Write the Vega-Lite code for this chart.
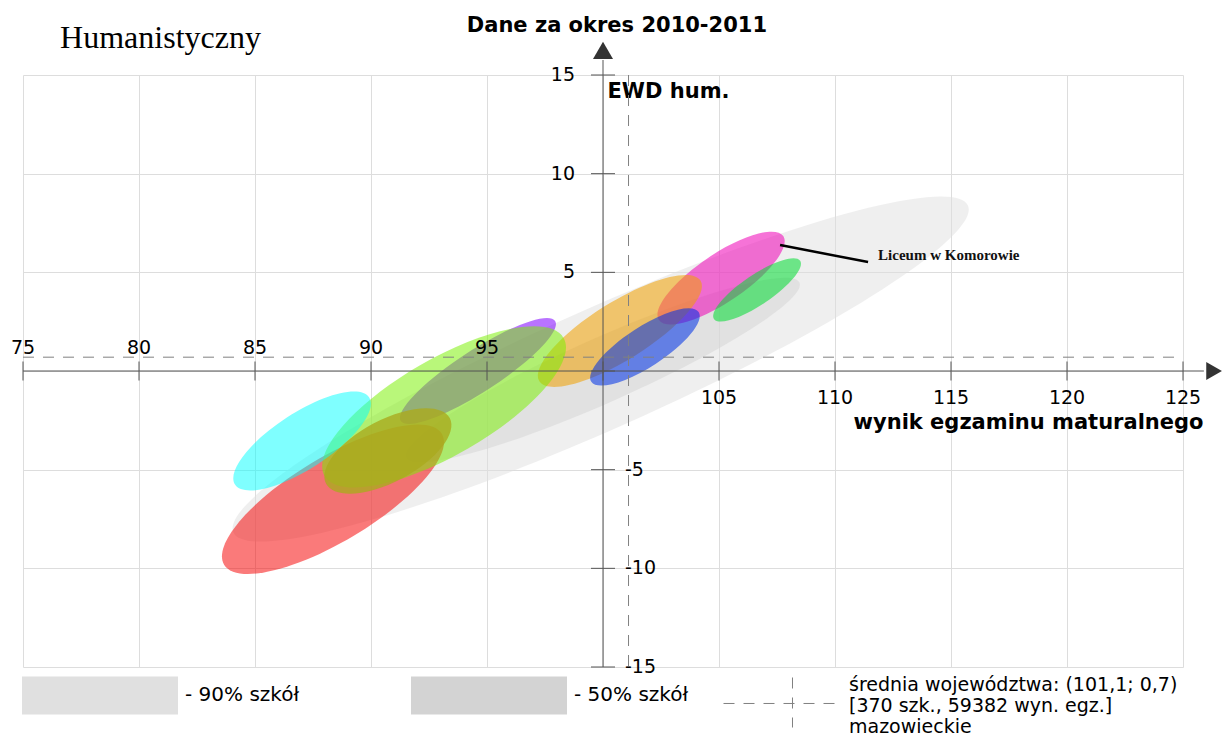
{
  "$schema": "https://vega.github.io/schema/vega-lite/v6.json",
  "width": 1160,
  "height": 592,
  "autosize": {"type": "none"},
  "padding": {"left": 23, "top": 75, "right": 42, "bottom": 68},
  "background": "white",
  "config": {"view": {"stroke": null}, "font": "DejaVu Sans", "style": {"guide-label": {"lineHeight": 21}}},
  "datasets": {
    "szare": [
      {"grupa": "90% szkół", "wynik": 99.9, "ewd": 0.1},
      {"grupa": "50% szkół", "wynik": 100.0, "ewd": 0.05}
    ],
    "szkoly": [
      {"szkola": "Szkoła A", "wynik": 88.36, "ewd": -6.5},
      {"szkola": "Liceum w Komorowie", "wynik": 105.09, "ewd": 4.71},
      {"szkola": "Szkoła C", "wynik": 100.73, "ewd": 2.03},
      {"szkola": "Szkoła D", "wynik": 94.61, "ewd": 0.0},
      {"szkola": "Szkoła E", "wynik": 93.15, "ewd": -1.82},
      {"szkola": "Szkoła F", "wynik": 87.03, "ewd": -3.55},
      {"szkola": "Szkoła G", "wynik": 90.73, "ewd": -4.05},
      {"szkola": "Szkoła H", "wynik": 101.81, "ewd": 1.22},
      {"szkola": "Szkoła I", "wynik": 106.64, "ewd": 4.11}
    ],
    "srednia": [
      {"wynik": 101.1, "ewd": 0.7, "opis": "średnia województwa: (101,1; 0,7)|[370 szk., 59382 wyn. egz.]|mazowieckie"}
    ],
    "podzialkiX": [{"v": 75}, {"v": 80}, {"v": 85}, {"v": 90}, {"v": 95}, {"v": 100}, {"v": 105}, {"v": 110}, {"v": 115}, {"v": 120}, {"v": 125}],
    "podzialkiY": [{"v": -15}, {"v": -10}, {"v": -5}, {"v": 0}, {"v": 5}, {"v": 10}, {"v": 15}]
  },
  "resolve": {"scale": {"fill": "independent", "size": "independent"}},
  "layer": [
    {
      "data": {"name": "szare"},
      "mark": {"type": "point", "filled": true, "shape": "M-1,0A1,0.15,0,1,1,1,0A1,0.15,0,1,1,-1,0Z", "angle": 336, "opacity": 0.5, "strokeWidth": 0},
      "encoding": {
        "x": {"field": "wynik", "type": "quantitative", "scale": {"domain": [75, 125], "nice": false, "zero": false},
          "axis": {"values": [75, 80, 85, 90, 95, 100, 105, 110, 115, 120, 125], "grid": true, "gridColor": "#dddddd", "gridWidth": 1, "domain": false, "ticks": false, "labels": false,
            "title": "wynik egzaminu maturalnego", "titleFont": "DejaVu Sans", "titleFontSize": 21, "titleFontWeight": "bold", "titleColor": "black", "titleAlign": "right", "titleBaseline": "alphabetic", "titleX": 1180, "titleY": -239}},
        "y": {"field": "ewd", "type": "quantitative", "scale": {"domain": [-15, 15], "nice": false, "zero": false},
          "axis": {"values": [-15, -10, -5, 0, 5, 10, 15], "grid": true, "gridColor": "#dddddd", "gridWidth": 1, "domain": false, "ticks": false, "labels": false,
            "title": "EWD hum.", "titleFont": "DejaVu Sans", "titleFontSize": 21, "titleFontWeight": "bold", "titleColor": "black", "titleAngle": 0, "titleAlign": "left", "titleBaseline": "alphabetic", "titleX": 584, "titleY": 22}},
        "fill": {"field": "grupa", "type": "nominal", "scale": {"domain": ["90% szkół", "50% szkół"], "range": ["#e0e0e0", "#d3d3d3"]},
          "legend": {"orient": "none", "legendX": -1, "legendY": 542, "direction": "horizontal", "title": null, "symbolType": "M-1,-0.2436H1V0.2436H-1Z", "symbolSize": 24336, "symbolOpacity": 1, "symbolStrokeWidth": 0, "labelExpr": "'- ' + datum.label", "labelFont": "DejaVu Sans", "labelFontSize": 20, "labelColor": "black", "labelOffset": 7, "labelLimit": 400, "columnPadding": 111, "padding": 0}},
        "size": {"field": "grupa", "type": "ordinal", "scale": {"type": "ordinal", "domain": ["50% szkół", "90% szkół"], "range": [184900, 646416]}, "legend": null}
      }
    },
    {
      "data": {"name": "szkoly"},
      "mark": {"type": "point", "filled": true, "opacity": 1, "strokeWidth": 0},
      "encoding": {
        "x": {"field": "wynik", "type": "quantitative", "scale": {"domain": [75, 125], "nice": false, "zero": false}},
        "y": {"field": "ewd", "type": "quantitative", "scale": {"domain": [-15, 15], "nice": false, "zero": false}},
        "fill": {"field": "szkola", "type": "nominal", "legend": null, "scale": {
          "domain": ["Szkoła A", "Liceum w Komorowie", "Szkoła C", "Szkoła D", "Szkoła E", "Szkoła F", "Szkoła G", "Szkoła H", "Szkoła I"],
          "range": ["rgba(245,0,0,0.52)", "rgba(238,0,182,0.55)", "rgba(240,160,0,0.55)", "rgba(127,0,255,0.55)", "rgba(120,240,0,0.52)", "rgba(0,255,255,0.5)", "rgba(170,170,30,0.8)", "rgba(0,50,230,0.56)", "rgba(0,220,50,0.55)"]}},
        "shape": {"field": "szkola", "type": "nominal", "legend": null, "scale": {
          "domain": ["Szkoła A", "Liceum w Komorowie", "Szkoła C", "Szkoła D", "Szkoła E", "Szkoła F", "Szkoła G", "Szkoła H", "Szkoła I"],
          "range": [
            "M-1,0A1,0.331,0,1,1,1,0A1,0.331,0,1,1,-1,0Z",
            "M-1,0A1,0.32,0,1,1,1,0A1,0.32,0,1,1,-1,0Z",
            "M-1,0A1,0.305,0,1,1,1,0A1,0.305,0,1,1,-1,0Z",
            "M-1,0A1,0.228,0,1,1,1,0A1,0.228,0,1,1,-1,0Z",
            "M-1,0A1,0.348,0,1,1,1,0A1,0.348,0,1,1,-1,0Z",
            "M-1,0A1,0.35,0,1,1,1,0A1,0.35,0,1,1,-1,0Z",
            "M-1,0A1,0.443,0,1,1,1,0A1,0.443,0,1,1,-1,0Z",
            "M-1,0A1,0.3125,0,1,1,1,0A1,0.3125,0,1,1,-1,0Z",
            "M-1,0A1,0.288,0,1,1,1,0A1,0.288,0,1,1,-1,0Z"]}},
        "size": {"field": "szkola", "type": "ordinal", "legend": null, "scale": {"type": "ordinal",
          "domain": ["Szkoła A", "Liceum w Komorowie", "Szkoła C", "Szkoła D", "Szkoła E", "Szkoła F", "Szkoła G", "Szkoła H", "Szkoła I"],
          "range": [64516, 22500, 36100, 33856, 76176, 25600, 19600, 16384, 10816]}},
        "angle": {"field": "szkola", "type": "ordinal", "legend": null, "scale": {"type": "ordinal",
          "domain": ["Szkoła A", "Liceum w Komorowie", "Szkoła C", "Szkoła D", "Szkoła E", "Szkoła F", "Szkoła G", "Szkoła H", "Szkoła I"],
          "range": [329, 326, 328, 327, 330, 327, 332, 327, 326]}}
      }
    },
    {
      "data": {"name": "srednia"},
      "mark": {"type": "rule", "color": "#808080", "strokeWidth": 1},
      "encoding": {
        "x": {"field": "wynik", "type": "quantitative", "scale": {"domain": [75, 125], "nice": false, "zero": false}},
        "y": {"datum": 15, "type": "quantitative", "scale": {"domain": [-15, 15], "nice": false, "zero": false}},
        "y2": {"datum": -15},
        "strokeDash": {"field": "opis", "type": "nominal", "scale": {"range": [[11, 9]]},
          "legend": {"orient": "none", "legendX": 700, "legendY": 553, "title": null, "symbolType": "M-1,0.339H1M0.232,-0.125V0.768", "symbolSize": 12544, "symbolStrokeColor": "#808080", "symbolStrokeWidth": 1, "symbolFillColor": "transparent", "symbolOpacity": 1, "labelExpr": "split(datum.label, '|')", "labelFont": "DejaVu Sans", "labelFontSize": 19, "labelColor": "black", "labelOffset": 13, "labelLimit": 1000, "padding": 0}}
      }
    },
    {
      "data": {"name": "srednia"},
      "mark": {"type": "rule", "color": "#808080", "strokeWidth": 1},
      "encoding": {
        "x": {"datum": 75, "type": "quantitative", "scale": {"domain": [75, 125], "nice": false, "zero": false}},
        "x2": {"datum": 125},
        "y": {"field": "ewd", "type": "quantitative", "scale": {"domain": [-15, 15], "nice": false, "zero": false}},
        "strokeDash": {"field": "opis", "type": "nominal", "legend": null}
      }
    },
    {
      "data": {"values": [{}]},
      "mark": {"type": "rule", "color": "#555555", "strokeWidth": 1},
      "encoding": {
        "x": {"datum": 75, "type": "quantitative", "scale": {"domain": [75, 125], "nice": false, "zero": false}},
        "x2": {"datum": 125.9},
        "y": {"datum": 0, "type": "quantitative", "scale": {"domain": [-15, 15], "nice": false, "zero": false}}
      }
    },
    {
      "data": {"values": [{}]},
      "mark": {"type": "rule", "color": "#555555", "strokeWidth": 1},
      "encoding": {
        "x": {"datum": 100, "type": "quantitative", "scale": {"domain": [75, 125], "nice": false, "zero": false}},
        "y": {"datum": -15, "type": "quantitative", "scale": {"domain": [-15, 15], "nice": false, "zero": false}},
        "y2": {"datum": 15.76}
      }
    },
    {
      "data": {"values": [{}]},
      "mark": {"type": "point", "shape": "triangle-right", "filled": true, "color": "#333333", "opacity": 1, "size": 330, "strokeWidth": 0},
      "encoding": {
        "x": {"datum": 126.34, "type": "quantitative", "scale": {"domain": [75, 125], "nice": false, "zero": false}},
        "y": {"datum": 0, "type": "quantitative", "scale": {"domain": [-15, 15], "nice": false, "zero": false}}
      }
    },
    {
      "data": {"values": [{}]},
      "mark": {"type": "point", "shape": "triangle-up", "filled": true, "color": "#333333", "opacity": 1, "size": 400, "strokeWidth": 0},
      "encoding": {
        "x": {"datum": 100, "type": "quantitative", "scale": {"domain": [75, 125], "nice": false, "zero": false}},
        "y": {"datum": 16.25, "type": "quantitative", "scale": {"domain": [-15, 15], "nice": false, "zero": false}}
      }
    },
    {
      "data": {"name": "podzialkiX"},
      "mark": {"type": "tick", "orient": "vertical", "color": "#555555", "thickness": 1, "opacity": 1},
      "encoding": {
        "x": {"field": "v", "type": "quantitative", "scale": {"domain": [75, 125], "nice": false, "zero": false}},
        "y": {"datum": 0, "type": "quantitative", "scale": {"domain": [-15, 15], "nice": false, "zero": false}},
        "size": {"value": 19}
      }
    },
    {
      "data": {"name": "podzialkiY"},
      "mark": {"type": "tick", "orient": "horizontal", "color": "#555555", "thickness": 1, "opacity": 1},
      "encoding": {
        "x": {"datum": 100, "type": "quantitative", "scale": {"domain": [75, 125], "nice": false, "zero": false}},
        "y": {"field": "v", "type": "quantitative", "scale": {"domain": [-15, 15], "nice": false, "zero": false}},
        "size": {"value": 24}
      }
    },
    {
      "data": {"name": "podzialkiX"},
      "transform": [{"filter": "datum.v < 100"}],
      "mark": {"type": "text", "align": "center", "baseline": "alphabetic", "dy": -17, "font": "DejaVu Sans", "fontSize": 19, "color": "black"},
      "encoding": {
        "x": {"field": "v", "type": "quantitative", "scale": {"domain": [75, 125], "nice": false, "zero": false}},
        "y": {"datum": 0, "type": "quantitative", "scale": {"domain": [-15, 15], "nice": false, "zero": false}},
        "text": {"field": "v", "type": "nominal"}
      }
    },
    {
      "data": {"name": "podzialkiX"},
      "transform": [{"filter": "datum.v > 100"}],
      "mark": {"type": "text", "align": "center", "baseline": "alphabetic", "dy": 33, "font": "DejaVu Sans", "fontSize": 19, "color": "black"},
      "encoding": {
        "x": {"field": "v", "type": "quantitative", "scale": {"domain": [75, 125], "nice": false, "zero": false}},
        "y": {"datum": 0, "type": "quantitative", "scale": {"domain": [-15, 15], "nice": false, "zero": false}},
        "text": {"field": "v", "type": "nominal"}
      }
    },
    {
      "data": {"name": "podzialkiY"},
      "transform": [{"filter": "datum.v > 0"}],
      "mark": {"type": "text", "align": "right", "baseline": "middle", "dx": -28, "font": "DejaVu Sans", "fontSize": 19, "color": "black"},
      "encoding": {
        "x": {"datum": 100, "type": "quantitative", "scale": {"domain": [75, 125], "nice": false, "zero": false}},
        "y": {"field": "v", "type": "quantitative", "scale": {"domain": [-15, 15], "nice": false, "zero": false}},
        "text": {"field": "v", "type": "nominal"}
      }
    },
    {
      "data": {"name": "podzialkiY"},
      "transform": [{"filter": "datum.v < 0"}],
      "mark": {"type": "text", "align": "left", "baseline": "middle", "dx": 22, "font": "DejaVu Sans", "fontSize": 19, "color": "black"},
      "encoding": {
        "x": {"datum": 100, "type": "quantitative", "scale": {"domain": [75, 125], "nice": false, "zero": false}},
        "y": {"field": "v", "type": "quantitative", "scale": {"domain": [-15, 15], "nice": false, "zero": false}},
        "text": {"field": "v", "type": "nominal"}
      }
    },
    {
      "data": {"name": "szkoly"},
      "transform": [{"filter": "datum.szkola == 'Liceum w Komorowie'"}],
      "mark": {"type": "rule", "color": "black", "strokeWidth": 2.5, "xOffset": 59, "yOffset": -33, "x2Offset": 147, "y2Offset": -16},
      "encoding": {
        "x": {"field": "wynik", "type": "quantitative", "scale": {"domain": [75, 125], "nice": false, "zero": false}},
        "x2": {"field": "wynik"},
        "y": {"field": "ewd", "type": "quantitative", "scale": {"domain": [-15, 15], "nice": false, "zero": false}},
        "y2": {"field": "ewd"}
      }
    },
    {
      "data": {"name": "szkoly"},
      "transform": [{"filter": "datum.szkola == 'Liceum w Komorowie'"}],
      "mark": {"type": "text", "align": "left", "baseline": "middle", "dx": 157, "dy": -23, "font": "Liberation Serif", "fontWeight": "bold", "fontSize": 15, "color": "#111111"},
      "encoding": {
        "x": {"field": "wynik", "type": "quantitative", "scale": {"domain": [75, 125], "nice": false, "zero": false}},
        "y": {"field": "ewd", "type": "quantitative", "scale": {"domain": [-15, 15], "nice": false, "zero": false}},
        "text": {"field": "szkola", "type": "nominal"}
      }
    },
    {
      "data": {"values": [{}]},
      "mark": {"type": "text", "text": "Humanistyczny", "align": "left", "baseline": "alphabetic", "font": "Liberation Serif", "fontSize": 32, "color": "black"},
      "encoding": {
        "x": {"datum": 76.6, "type": "quantitative", "scale": {"domain": [75, 125], "nice": false, "zero": false}},
        "y": {"datum": 16.35, "type": "quantitative", "scale": {"domain": [-15, 15], "nice": false, "zero": false}}
      }
    },
    {
      "data": {"values": [{}]},
      "mark": {"type": "text", "text": "Dane za okres 2010-2011", "align": "center", "baseline": "alphabetic", "font": "DejaVu Sans", "fontWeight": "bold", "fontSize": 21, "color": "black"},
      "encoding": {
        "x": {"datum": 100.6, "type": "quantitative", "scale": {"domain": [75, 125], "nice": false, "zero": false}},
        "y": {"datum": 17.18, "type": "quantitative", "scale": {"domain": [-15, 15], "nice": false, "zero": false}}
      }
    }
  ]
}
